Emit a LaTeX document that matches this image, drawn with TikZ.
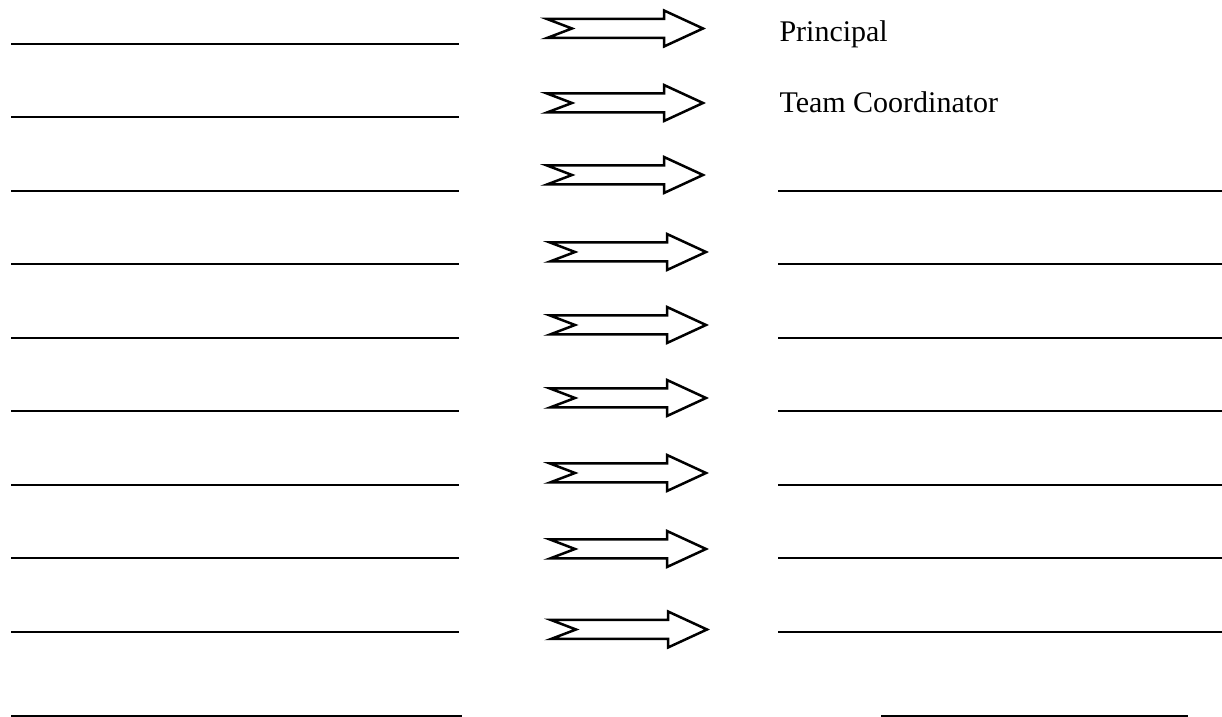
\documentclass[tikz,border=0pt]{standalone}
\usepackage{fontspec}
\setmainfont{Liberation Serif}
\begin{document}
\begin{tikzpicture}[x=0.4pt, y=-0.4pt,
    blank/.style={line width=0.8pt},
    blockarrow/.style={line width=1pt, line join=miter},
    role/.style={anchor=base west, inner sep=0pt, font=\fontsize{12}{14}\selectfont}]
    \useasboundingbox (0,0) rectangle (1222,717);

    % Blank lines, left column
    \foreach \i/\y in {1/44,2/117,3/191,4/264,5/338,6/411,7/485,8/558,9/632}{
        \coordinate (la\i) at (11,\y);
        \coordinate (lb\i) at (459,\y);
        \draw[blank] (la\i) -- (lb\i);
    }

    % Block arrows with notched tail
    \foreach \i/\x/\y in {1/547/28.5,2/547/103,3/547/175,4/550/252,5/550/325,6/550/398,7/550/473,8/550/549,9/551/629.5}{
        \coordinate (ar\i) at (\x,\y);
        \draw[blockarrow] (ar\i) ++(0,-9.5) -- ++(117,0) -- ++(0,-8.5) -- ++(39,18)
            -- ++(-39,18) -- ++(0,-8.5) -- ++(-117,0) -- ++(25,-9.5) -- cycle;
    }

    % Filled in roles
    \node[role] (principal) at (779,42) {Principal};
    \node[role] (teamcoord) at (779,113) {Team Coordinator};

    % Blank lines, right column
    \foreach \i/\y in {3/191,4/264,5/338,6/411,7/485,8/558,9/632}{
        \coordinate (ra\i) at (778,\y);
        \coordinate (rb\i) at (1222,\y);
        \draw[blank] (ra\i) -- (rb\i);
    }

    % Bottom row
    \coordinate (bl1) at (11,716.3);
    \coordinate (bl2) at (462,716.3);
    \coordinate (br1) at (881,716.3);
    \coordinate (br2) at (1188,716.3);
    \draw[blank] (bl1) -- (bl2);
    \draw[blank] (br1) -- (br2);
\end{tikzpicture}
\end{document}
